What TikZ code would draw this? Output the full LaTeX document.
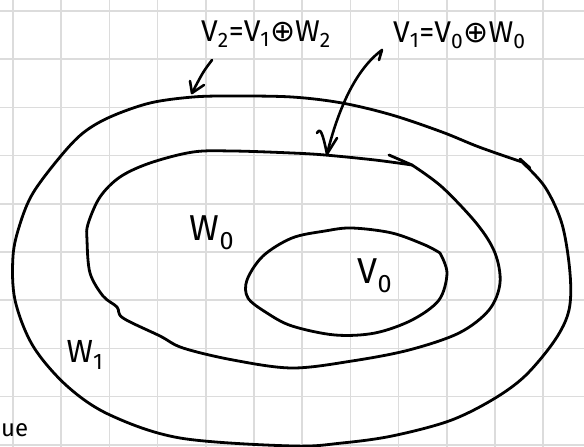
\documentclass[tikz,border=0pt]{standalone}
\usepackage{fontspec}
\setmainfont{Fira Sans}
\newfontfamily\symfont{DejaVu Sans}
\definecolor{gridc}{HTML}{DCDCDC}
\begin{document}
\begin{tikzpicture}[x=1pt,y=-1pt,
  gridline/.style={gridc,line width=1.6pt},
  curve/.style={line width=2.8pt,line join=round,line cap=round},
  arrowline/.style={line width=2.6pt,line join=round,line cap=round},
  lbl/.style={inner sep=0pt,font=\fontsize{30}{32}\selectfont}]
\useasboundingbox[fill=white] (0,0) rectangle (584,447);
% grid
\foreach \k in {0,...,11} \draw[gridline] ({13+48.2*\k},0) -- ({13+48.2*\k},447);
\foreach \k in {0,...,9} \draw[gridline] (0,{11+48.2*\k}) -- (584,{11+48.2*\k});
% outer curve
\draw[curve] plot[smooth,tension=0.55] coordinates {
 (522,162) (545,187) (562,224) (570,273) (569,310) (555,340) (525,376) (492,400)
 (449,421) (392,436) (342,443) (292,446) (180,438) (110,415) (67,386) (33,346)
 (15,300) (13,256) (20,224) (33,193) (60,157) (83,133) (110,117) (150,103)
 (193,97) (233,96) (292,97) (342,103) (392,115) (442,132) (479,147) (522,162)};
\draw[curve] (520,159) -- (530,168);
% middle curve
\draw[curve] plot[smooth,tension=0.55] coordinates {
 (412,165) (442,187) (477,224) (495,253) (500,283) (489,310) (459,333) (409,350)
 (352,361) (292,368) (233,360) (183,348) (160,336) (123,318) (117,307) (103,296)
 (90,273) (87,240) (88,224) (100,197) (120,177) (150,163) (193,152) (233,151)
 (292,153) (325,155) (375,160) (412,165)};
\draw[curve] (389,155) -- (412,165);
% inner curve
\draw[curve] plot[smooth,tension=0.55] coordinates {
 (440,253) (447,273) (439,300) (412,320) (375,333) (335,335) (292,326) (267,313)
 (248,298) (247,280) (263,256) (292,238) (325,231) (352,228) (392,233) (425,245) (440,253)};
% labels
\node[lbl,anchor=west] (v2) at (201,34) {V\textsubscript{2}=V\textsubscript{1}{\symfont ⊕}W\textsubscript{2}};
\node[lbl,anchor=west] (v1) at (393,35) {V\textsubscript{1}=V\textsubscript{0}{\symfont ⊕}W\textsubscript{0}};
\node[lbl,font=\fontsize{36}{38}\selectfont] (w0) at (212,233) {W\textsubscript{0}};
\node[lbl,font=\fontsize{36}{38}\selectfont] (v0) at (375,276) {V\textsubscript{0}};
\node[lbl,font=\fontsize{32}{34}\selectfont] (w1) at (85,355) {W\textsubscript{1}};
\node[lbl,anchor=west,font=\fontsize{24}{26}\selectfont] (ue) at (1,430) {ue};
% arrows
\coordinate (a2s) at (212,60);
\coordinate (a2t) at (192,93);
\draw[arrowline] (a2s) .. controls (203,72) .. (a2t);
\draw[arrowline] (190,81) -- (a2t) -- (204,85);
\coordinate (a1s) at (382,50);
\coordinate (a1t) at (327,154);
\draw[arrowline] (379,60) -- (a1s) .. controls (355,70) and (338,110) .. (a1t);
\draw[arrowline] (317,133) .. controls (320,128) and (322,130) .. (a1t) -- (337,138);
\end{tikzpicture}
\end{document}
